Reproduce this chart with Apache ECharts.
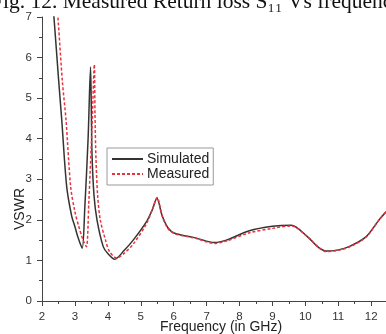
<!DOCTYPE html>
<html><head><meta charset="utf-8">
<script src="https://cdn.jsdelivr.net/npm/echarts@6/dist/echarts.min.js"></script>
<style>html,body{margin:0;padding:0;background:#fff}#c{width:386px;height:334px}</style>
</head><body><div id="c"></div>
<script>
const titleText = "Fig. 12. Measured Return loss S\u2081\u2081 Vs frequency";
const xTicks = [2,3,4,5,6,7,8,9,10,11,12];
const yTicks = [0,1,2,3,4,5,6,7];
const seriesNames = ["Simulated", "Measured"];
const simulated = [
 [2.30,7.6],[2.37,6.92],[2.50,5.5],[2.60,4.46],[2.75,2.82],[2.90,2.1],[3.00,1.83],[3.10,1.55],[3.22,1.30],
 [3.30,2.3],[3.40,4.0],[3.475,5.77],[3.50,4.6],[3.52,3.6],[3.58,2.6],[3.67,2.0],[3.86,1.34],[4.0,1.17],[4.21,1.03],
 [4.5,1.25],[4.77,1.50],[5.17,1.95],[5.35,2.25],[5.49,2.53],[5.65,2.1],[5.83,1.80],[6.03,1.67],[6.69,1.55],
 [7.24,1.44],[7.6,1.50],[8.3,1.73],[9.0,1.84],[9.57,1.87],[10.07,1.58],[10.4,1.32],[10.63,1.23],[11.0,1.26],
 [11.33,1.34],[11.84,1.58],[12.24,2.0],[12.45,2.2]
];
const measured = [
 [2.42,7.6],[2.49,6.92],[2.62,5.4],[2.73,4.46],[2.87,2.82],[3.0,2.2],[3.12,1.83],[3.25,1.5],[3.35,1.34],
 [3.42,2.4],[3.52,4.3],[3.59,5.83],[3.61,4.6],[3.64,3.5],[3.69,2.6],[3.77,2.0],[3.93,1.5],[4.05,1.22],[4.27,1.06],
 [4.5,1.18],[4.77,1.40],[5.17,1.9],[5.35,2.25],[5.5,2.55],[5.65,2.1],[5.83,1.78],[6.03,1.66],[6.69,1.54],
 [7.24,1.42],[7.6,1.48],[8.3,1.68],[9.0,1.79],[9.57,1.85],[10.07,1.58],[10.4,1.32],[10.63,1.22],[11.0,1.25],
 [11.33,1.33],[11.84,1.57],[12.24,2.0],[12.45,2.2]
];
const xName = "Frequency (in GHz)";
const yName = "VSWR";

const chart = echarts.init(document.getElementById('c'), null, {renderer:'canvas'});
const axisCommon = {
  axisLine:{show:true,lineStyle:{color:'#444',width:1}},
  axisTick:{show:true,inside:false,length:5,lineStyle:{color:'#444'}},
  minorTick:{show:true,splitNumber:2,length:3,lineStyle:{color:'#444'}},
  splitLine:{show:false},
  axisLabel:{color:'#333',fontFamily:'Liberation Sans, Arial, sans-serif',fontSize:11.5}
};
chart.setOption({
  animation:false,
  backgroundColor:'#fff',
  grid:{left:42,top:17,right:0,bottom:33,containLabel:false},
  xAxis:Object.assign({type:'value',min:xTicks[0],max:12.45,interval:1},axisCommon,{
    axisLabel:Object.assign({},axisCommon.axisLabel,{margin:10,showMaxLabel:false,
      formatter:v=>xTicks.includes(v)?String(v):''})
  }),
  yAxis:Object.assign({type:'value',min:yTicks[0],max:yTicks[yTicks.length-1],interval:1},axisCommon,{
    axisLabel:Object.assign({},axisCommon.axisLabel,{margin:10})
  }),
  legend:{
    orient:'vertical',left:107,top:148,
    data:seriesNames,
    itemWidth:31,itemHeight:14,itemGap:1,
    padding:[4,4,4,4],
    borderColor:'#999',borderWidth:1,
    itemStyle:{opacity:0},
    textStyle:{color:'#222',fontFamily:'Liberation Sans, Arial, sans-serif',fontSize:14,padding:[0,0,0,-1]}
  },
  series:[
    {name:seriesNames[0],type:'line',data:simulated,showSymbol:false,symbol:'none',smooth:0.3,
     lineStyle:{color:'#333',width:1.5},itemStyle:{color:'#333'},clip:true},
    {name:seriesNames[1],type:'line',data:measured,showSymbol:false,symbol:'none',smooth:0.3,
     lineStyle:{color:'#e8333d',width:1.5,type:[3,2]},itemStyle:{color:'#e8333d'},clip:true}
  ],
  graphic:[
    {type:'text',x:-9,y:2,style:{text:titleText,fontFamily:'Liberation Serif, Times New Roman, serif',fontSize:21.5,fill:'#111',verticalAlign:'middle'}},
    {type:'text',x:20,y:209,rotation:Math.PI/2,style:{text:yName,fontFamily:'Liberation Sans, Arial, sans-serif',fontSize:14,fill:'#222',align:'center',verticalAlign:'middle'}},
    {type:'text',x:221,y:327,style:{text:xName,fontFamily:'Liberation Sans, Arial, sans-serif',fontSize:14,fill:'#222',align:'center',verticalAlign:'middle'}}
  ]
});
</script></body></html>
